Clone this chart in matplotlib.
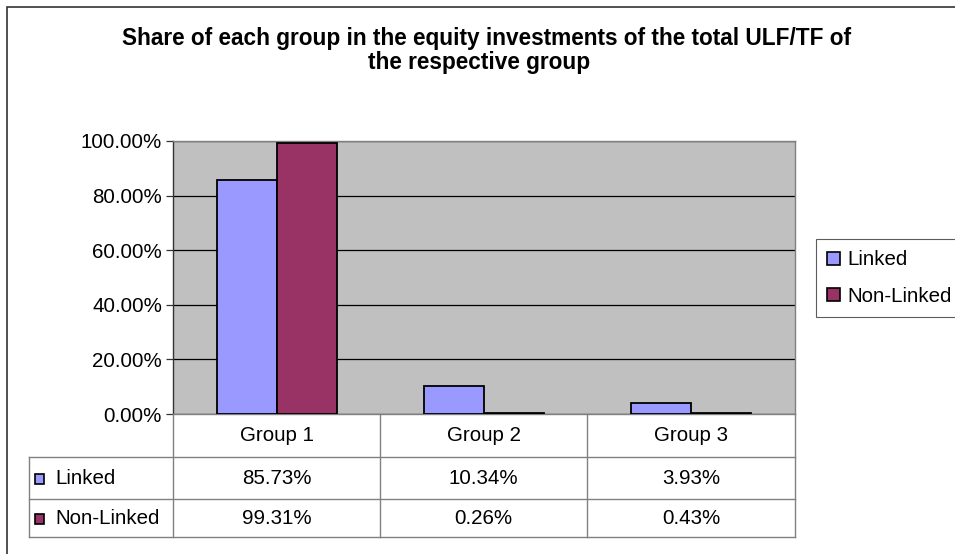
import numpy as np
import matplotlib.pyplot as plt
from matplotlib.patches import Patch, Rectangle
from matplotlib.lines import Line2D

plt.rcParams['font.family'] = ['Liberation Sans', 'DejaVu Sans']

# data
groups = ["Group 1", "Group 2", "Group 3"]
series = ["Linked", "Non-Linked"]
linked = [85.73, 10.34, 3.93]
non_linked = [99.31, 0.26, 0.43]
yticks = [0, 20, 40, 60, 80, 100]

colors = ["#9999FF", "#993366"]
W, H = 955, 554
fs = 14.8


def fx(x):
    return x / W


def fy(y):
    return 1 - y / H


fig = plt.figure(figsize=(W / 100, H / 100), dpi=100)

# outer chart border (right and bottom run off the picture)
fig.patches.append(Rectangle((fx(7), fy(560)), fx(960 - 7), 560 / H - 7 / H,
                             transform=fig.transFigure, fill=False,
                             edgecolor="#333333", lw=1.2))

fig.text(fx(487), fy(38), "Share of each group in the equity investments of the total ULF/TF of",
         ha="center", va="center", fontsize=16.3, fontweight="bold")
fig.text(fx(479), fy(62), "the respective group",
         ha="center", va="center", fontsize=16.3, fontweight="bold")

# plot area
left, right, top, bottom = 173, 795, 141, 414
ax = fig.add_axes([fx(left), fy(bottom), fx(right - left), (bottom - top) / H])
ax.set_facecolor("#C0C0C0")

x = np.arange(len(groups))
bw = 60 / 207
ax.bar(x - bw / 2, linked, bw, color=colors[0], edgecolor="black", lw=1.3, zorder=3)
ax.bar(x + bw / 2, non_linked, bw, color=colors[1], edgecolor="black", lw=1.3, zorder=3)

ax.set_xlim(-0.5, 2.5)
ax.set_ylim(0, 100)
ax.set_yticks(yticks)
ax.set_yticklabels(["%.2f%%" % v for v in yticks], fontsize=fs)
ax.yaxis.grid(True, color="black", lw=0.9, zorder=1)
ax.set_xticks([])
ax.tick_params(axis="y", length=5, width=0.9, color="#333333", pad=3)
for s in ax.spines.values():
    s.set_color("#808080")
    s.set_linewidth(1.0)
ax.spines["left"].set_color("#333333")

# data table below the plot
tcol = "#808080"
row_y = [414, 457, 499, 537]
col_x = [173, 380, 587, 795]
tab_left = 29


def hline(y, x0, x1):
    fig.lines.append(Line2D([fx(x0), fx(x1)], [fy(y), fy(y)], transform=fig.transFigure,
                            color=tcol, lw=1.0))


def vline(x0, y0, y1):
    fig.lines.append(Line2D([fx(x0), fx(x0)], [fy(y0), fy(y1)], transform=fig.transFigure,
                            color=tcol, lw=1.0))


hline(row_y[1], tab_left, col_x[-1])
hline(row_y[2], tab_left, col_x[-1])
hline(row_y[3], tab_left, col_x[-1])
vline(tab_left, row_y[1], row_y[3])
for cx in col_x:
    vline(cx, row_y[0], row_y[3])

for i, g in enumerate(groups):
    cx = (col_x[i] + col_x[i + 1]) / 2
    fig.text(fx(cx), fy((row_y[0] + row_y[1]) / 2), g, ha="center", va="center", fontsize=fs)

for r, (name, vals) in enumerate(zip(series, [linked, non_linked])):
    cy = (row_y[r + 1] + row_y[r + 2]) / 2
    fig.patches.append(Rectangle((fx(35), fy(cy + 6)), fx(9), 10 / H, transform=fig.transFigure,
                                 facecolor=colors[r], edgecolor="black", lw=1.2))
    fig.text(fx(55), fy(cy), name, ha="left", va="center", fontsize=fs)
    for i, v in enumerate(vals):
        cx = (col_x[i] + col_x[i + 1]) / 2
        fig.text(fx(cx), fy(cy), "%.2f%%" % v, ha="center", va="center", fontsize=fs)

# legend
handles = [Patch(facecolor=c, edgecolor="black", lw=1.2) for c in colors]
leg = fig.legend(handles, series, loc="upper left", bbox_to_anchor=(fx(816), fy(239)),
                 fontsize=fs, frameon=True, fancybox=False, handlelength=0.6,
                 handleheight=0.6, handletextpad=0.4, borderpad=0.55, labelspacing=0.85,
                 borderaxespad=0)
leg.get_frame().set_edgecolor("#333333")
leg.get_frame().set_linewidth(0.8)

fig.savefig("out.png", dpi=100)
